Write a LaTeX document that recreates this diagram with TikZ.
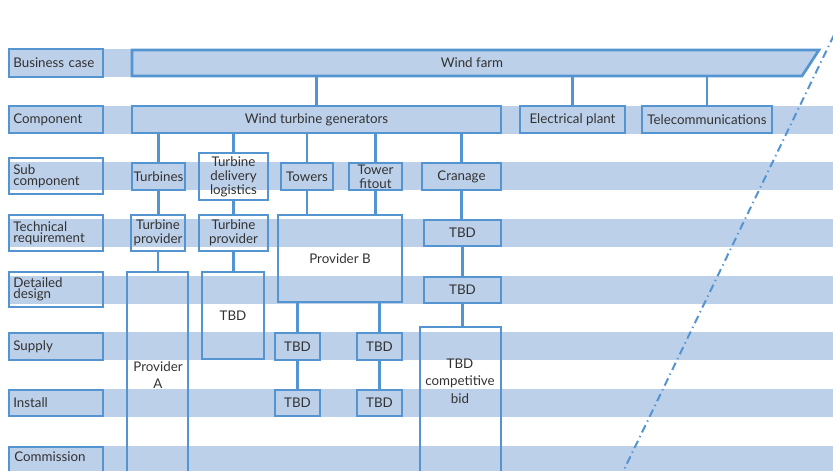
\documentclass[tikz,border=0pt]{standalone}
\usepackage{fontspec}
\setmainfont{Lato}
\definecolor{band}{RGB}{189,208,234}
\definecolor{edge}{RGB}{84,148,209}
\definecolor{ink}{RGB}{50,50,50}
\begin{document}
\begin{tikzpicture}[x=0.75pt,y=-0.75pt,
  span/.style args={#1/#2/#3/#4}{minimum width={(#3-#1)*0.75pt},
      minimum height={(#4-#2)*0.75pt}, at={({(#1+#3)/2},{(#2+#4)/2})}},
  box/.style={draw=edge, line width=2pt, inner sep=0pt, outer sep=0pt, align=center,
      text=ink, font=\fontsize{10}{10.5}\selectfont},
  lab/.style={box, text width=64pt, align=left, font=\fontsize{10}{8.5}\selectfont},
  txt/.style={inner sep=0pt, align=center, text=ink, font=\fontsize{10}{13}\selectfont},
  link/.style={draw=edge, line width=2pt},
  phase/.style={draw=edge, line width=1.5pt, dash pattern=on 6pt off 3pt on 1pt off 3pt}]
\useasboundingbox (0,0) rectangle (833,471);
\clip (0,0) rectangle (833,471);

% horizontal stage bands
\fill[band] (8,49) rectangle (140,77);
\foreach \t in {106,162,219,276,332,389,446}
  \fill[band] (8,\t) rectangle (833,\t+28);

% stage labels
\node[lab, span=9/49/103/77]   (l1) {Business case};
\node[lab, span=9/106/103/133] (l2) {Component};
\node[lab, span=9/158/103/194] (l3) {Sub\\component};
\node[lab, span=9/215/103/251] (l4) {Technical\\requirement};
\node[lab, span=9/272/103/307] (l5) {Detailed\\design};
\node[lab, span=9/333/103/360] (l6) {Supply};
\node[lab, span=9/390/103/416] (l7) {Install};
\node[lab, span=9/447/103/480] (l8) {};
\node[txt, anchor=west] at (14,457) {Commission};

% wind farm (slanted right end)
\filldraw[fill=band, draw=edge, line width=2pt] (132,50) -- (819,50) -- (802,76) -- (132,76) -- cycle;
\node[txt, inner sep=0pt, span=132/50/812/76] (wf) {Wind farm};

% components
\node[box, span=132/106/501/133] (wtg) {Wind turbine generators};
\node[box, span=520/106/625/133] (ep) {Electrical plant};
\node[box, span=642/106/772/133] (tc) {Telecommunications};

% sub components
\node[box, span=132/163/185/190] (tu) {Turbines};
\node[box, span=199/153/268/200] (tdl) {Turbine\\delivery\\logistics};
\node[box, span=281/163/333/190] (tw) {Towers};
\node[box, span=349/163/402/190] (tf) {Tower\\fitout};
\node[box, span=422/163/501/190] (cr) {Cranage};

% technical requirement
\node[box, span=131/215/185/251] (tp1) {Turbine\\provider};
\node[box, span=199/215/268/251] (tp2) {Turbine\\provider};
\node[box, span=278/215/402/302] (pb) {Provider B};
\node[box, span=424/220/501/246] (c1) {TBD};

% detailed design and later
\node[box, span=127/272/188/490] (pa) {};
\node[txt] at (158,375) {Provider\\A};
\node[box, span=202/272/264/359] (tb) {TBD};
\node[box, span=424/277/501/303] (c2) {TBD};
\node[box, span=420/327/501/490] (bid) {};
\node[txt] at (460,381) {TBD\\competitive\\bid};

\node[box, span=275/333/320/360] (s1) {TBD};
\node[box, span=357/333/402/360] (s2) {TBD};
\node[box, span=275/390/320/416] (i1) {TBD};
\node[box, span=357/390/402/416] (i2) {TBD};

% connectors
\draw[link] (wtg.north) -- (wtg.north |- wf.south);
\draw[link] (ep.north) -- (ep.north |- wf.south);
\draw[link] (tc.north) -- (tc.north |- wf.south);
\foreach \n in {tu,tdl,tw,tf,cr}
  \draw[link] (\n.north) -- (\n.north |- wtg.south);
\draw[link] (tu.south) -- (tu.south |- tp1.north);
\draw[link] (tdl.south) -- (tdl.south |- tp2.north);
\draw[link] (tw.south) -- (tw.south |- pb.north);
\draw[link] (tf.south) -- (tf.south |- pb.north);
\draw[link] (cr.south) -- (cr.south |- c1.north);
\draw[link] (tp1.south) -- (tp1.south |- pa.north);
\draw[link] (tp2.south) -- (tp2.south |- tb.north);
\draw[link] (c1.south) -- (c1.south |- c2.north);
\draw[link] (c2.south) -- (c2.south |- bid.north);
\draw[link] (s1.north) -- (s1.north |- pb.south);
\draw[link] (s2.north) -- (s2.north |- pb.south);
\draw[link] (s1.south) -- (s1.south |- i1.north);
\draw[link] (s2.south) -- (s2.south |- i2.north);

% dash-dot phase boundary
\coordinate (ptop) at (834,35);
\coordinate (pbot) at (620,478);
\draw[phase] (ptop) -- (pbot);
\end{tikzpicture}
\end{document}
